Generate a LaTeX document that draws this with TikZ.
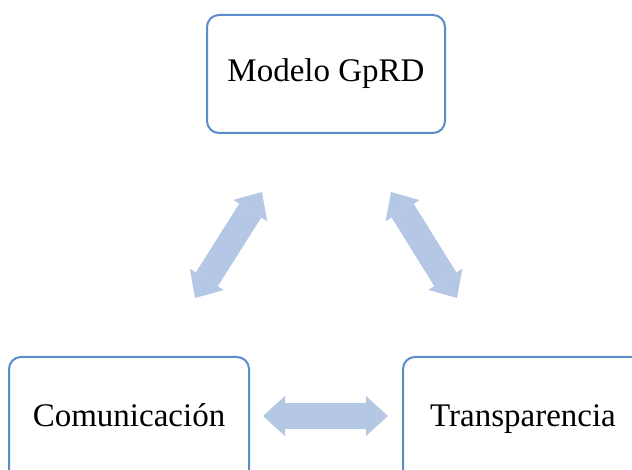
\documentclass[tikz,border=0pt]{standalone}
\usepackage{fontspec}
\setmainfont{Liberation Serif}
\usetikzlibrary{arrows.meta}
\definecolor{boxblue}{HTML}{5B8DC8}
\definecolor{arrowblue}{HTML}{B4C8E6}
\begin{document}
\begin{tikzpicture}[x=1pt,y=-1pt,
  box/.style={draw=boxblue, line width=2pt, rounded corners=12pt, fill=white,
    minimum width=238pt, minimum height=118pt, inner sep=0pt,
    font=\fontsize{33}{40}\selectfont, text=black},
  lowbox/.style={box, minimum width=240pt, minimum height=140pt, anchor=north,
    text height=24pt, text depth=26pt},
  fattip/.style={Triangle[length=22pt,width=40pt,line width=0pt,fill=arrowblue]},
  fat/.style={draw=arrowblue, line width=26pt,
    {Triangle[length=22pt,width=40pt,line width=0pt,fill=arrowblue]}-{Triangle[length=22pt,width=40pt,line width=0pt,fill=arrowblue]}}]
\useasboundingbox (0,0) rectangle (632,470);
\clip (0,0) rectangle (632,470);
\node[box] (model) at (326,74) {Modelo GpRD};
\node[lowbox] (com) at (129,356) {Comunicación};
\node[lowbox] (trans) at (523,356) {Transparencia};
\coordinate (l1) at (195,298);
\coordinate (l2) at (262,192);
\coordinate (r1) at (391,192);
\coordinate (r2) at (457,298);
\coordinate (h1) at (263,416);
\coordinate (h2) at (388,416);
\draw[fat] (l1) -- (l2);
\draw[fat] (r1) -- (r2);
\draw[fat] (h1) -- (h2);
\end{tikzpicture}
\end{document}
